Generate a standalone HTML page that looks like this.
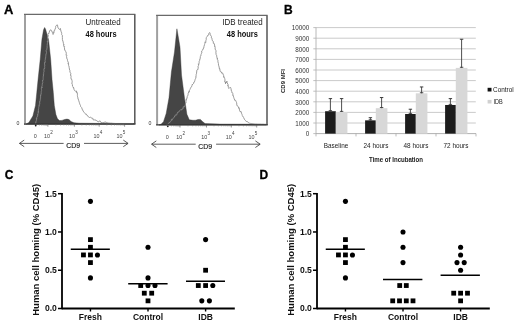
<!DOCTYPE html>
<html><head><meta charset="utf-8"><style>
html,body{margin:0;padding:0;background:#fff;width:520px;height:325px;overflow:hidden}
svg{display:block;filter:blur(0.3px)}
text{font-family:"Liberation Sans",sans-serif}
</style></head><body>
<svg width="520" height="325" viewBox="0 0 520 325">
<rect width="520" height="325" fill="#fff"/>
<text transform="translate(4.1,13.9) scale(1.08,1)" font-size="12" font-weight="bold" stroke="#000" stroke-width="0.3" font-family="'Liberation Sans', sans-serif">A</text>
<text transform="translate(284.0,13.9)" font-size="12" font-weight="bold" stroke="#000" stroke-width="0.3" font-family="'Liberation Sans', sans-serif">B</text>
<text transform="translate(4.7,179.0)" font-size="12" font-weight="bold" stroke="#000" stroke-width="0.3" font-family="'Liberation Sans', sans-serif">C</text>
<text transform="translate(259.5,179.0)" font-size="12" font-weight="bold" stroke="#000" stroke-width="0.3" font-family="'Liberation Sans', sans-serif">D</text>
<line x1="25" y1="14.45" x2="25" y2="124.1" stroke="#a0a0a0" stroke-width="2"/>
<line x1="24" y1="14.45" x2="135.4" y2="14.45" stroke="#6a6a6a" stroke-width="1.3"/>
<line x1="134.8" y1="14.45" x2="134.8" y2="124.1" stroke="#555" stroke-width="1.5"/>
<polygon points="26.0,124.1 28.9,122.5 32.9,115.9 35.5,105.4 36.8,92.4 38.1,79.3 40.2,59.6 41.9,39.4 43.5,30.0 44.6,27.5 45.5,29.0 47.0,34.3 48.6,40.0 50.7,59.6 52.0,79.3 53.3,92.4 54.3,105.4 55.9,114.6 57.5,118.8 59.5,120.6 62.0,120.4 64.5,119.5 67.0,119.1 69.0,119.6 71.0,121.5 74.0,122.7 79.0,123.2 100.0,123.4 134.0,123.5 134.0,124.1" fill="#454545" stroke="#333" stroke-width="0.4"/>
<polyline points="35.5,123.6 36.0,122.0 35.8,122.2 36.2,120.8 36.7,120.1 36.3,118.2 36.9,118.6 36.8,117.5 37.6,116.0 37.9,114.7 37.5,115.0 38.1,113.3 38.3,111.5 38.3,112.3 38.4,110.1 38.4,108.8 38.8,108.6 38.7,107.4 39.0,106.4 38.8,105.7 39.4,105.7 39.2,104.5 39.8,104.2 39.6,101.7 40.0,101.9 39.9,101.4 40.2,100.3 40.3,98.4 40.6,98.5 40.6,97.0 40.5,95.2 40.7,95.7 41.0,93.6 41.2,93.7 41.2,92.4 41.3,91.3 41.6,90.6 41.5,89.7 41.3,88.8 41.9,87.1 42.0,87.8 41.8,85.9 42.5,85.2 42.3,84.8 42.2,84.0 42.8,82.5 42.6,81.7 42.8,80.2 42.5,80.6 43.2,79.4 43.2,78.6 43.2,77.6 43.3,76.2 43.7,74.4 43.3,74.5 43.7,73.4 43.7,72.3 44.0,71.7 44.0,70.9 43.9,69.0 44.3,68.3 44.6,68.7 44.7,67.6 44.6,66.2 45.0,64.8 44.5,64.7 44.6,62.6 44.9,63.0 45.3,60.9 45.0,60.4 45.4,59.1 45.3,58.2 45.6,58.3 45.7,56.7 45.8,55.2 45.7,55.0 46.4,53.5 46.0,53.3 46.5,52.6 46.1,50.6 46.7,49.9 46.8,49.0 46.8,49.0 47.2,47.3 47.0,47.4 47.2,45.4 47.2,45.0 47.3,43.9 47.5,42.8 47.3,41.3 47.8,42.0 47.9,39.9 48.0,38.9 47.7,38.7 47.5,36.9 47.6,37.1 48.4,36.0 47.9,34.6 48.2,33.5 49.1,33.4 49.2,32.3 49.6,31.0 50.4,29.9 50.8,29.7 51.0,30.5 51.8,30.9 52.2,32.2 52.9,33.2 53.1,34.5 53.0,34.3 53.5,32.2 54.1,32.7 54.0,30.7 54.7,30.4 54.7,29.9 55.2,29.0 55.7,27.4 55.6,26.5 56.6,25.2 57.3,24.8 57.5,25.1 57.9,27.7 58.5,28.0 59.1,29.2 59.5,29.5 60.5,28.5 60.6,30.0 60.7,30.0 61.2,31.9 61.6,32.9 61.5,33.0 61.7,33.3 61.5,34.3 62.3,35.2 62.4,37.5 62.4,37.7 62.4,39.5 62.7,40.0 62.7,41.0 63.0,41.1 63.4,43.4 63.5,44.4 64.0,44.1 63.6,46.0 63.9,46.7 64.6,46.6 64.4,47.4 64.7,50.0 65.0,50.0 65.0,50.2 65.6,51.4 66.0,52.0 66.3,53.4 66.0,55.3 66.4,55.0 66.8,55.6 66.5,56.4 67.0,59.1 67.3,59.3 67.6,60.0 67.5,60.6 68.3,62.6 67.9,63.6 68.5,63.2 68.6,65.5 68.9,65.9 69.0,66.0 69.0,67.0 69.2,67.6 69.6,70.1 69.9,70.4 69.9,71.9 70.2,72.0 70.2,72.5 70.8,73.5 70.5,75.4 70.9,75.3 71.1,76.6 70.8,76.9 71.0,77.8 71.1,79.2 71.7,79.3 72.0,80.6 72.2,81.8 72.1,82.1 71.9,84.1 72.4,84.5 72.5,86.3 73.4,87.0 73.2,88.0 73.7,87.7 74.0,89.4 74.7,90.7 75.5,91.2 76.6,91.0 76.4,92.6 77.2,92.4 77.4,94.2 77.5,95.2 77.3,95.8 77.4,96.2 78.0,97.6 77.7,97.7 78.2,99.0 78.8,100.8 78.9,100.9 79.2,102.4 79.4,102.5 79.5,103.2 80.1,104.8 80.5,105.5 80.6,106.5 81.2,107.1 81.7,107.6 82.3,109.7 82.9,109.9 82.9,110.5 83.7,111.9 84.4,112.7 85.0,113.6 85.9,114.3 86.4,114.2 86.9,115.4 87.9,115.9 88.5,116.8 89.6,117.9 90.2,117.2 90.6,117.2 92.0,118.4 92.8,118.2 93.2,119.9 94.4,119.9 95.0,120.0 96.0,120.1 96.8,121.0 98.0,121.5 98.6,122.0 99.3,120.9 100.4,121.2 100.9,122.5 102.3,122.6 103.0,122.6 103.9,122.4 105.0,122.1 106.1,122.0 106.8,123.4 107.9,122.5 108.5,123.0 109.5,123.1 110.4,123.2 111.3,123.2 112.2,123.3 113.2,123.4 114.1,123.4 115.0,123.5 115.9,123.5 116.8,123.5 117.7,123.5 118.6,123.5 119.5,123.5 120.4,123.6 121.3,123.6 122.2,123.6 123.1,123.6 124.0,123.6 124.9,123.6 125.8,123.6 126.7,123.6 127.6,123.6 128.5,123.7 129.4,123.7 130.3,123.7 131.2,123.7 132.1,123.7 133.0,123.7" fill="none" stroke="#8a8a8a" stroke-width="0.85" stroke-linejoin="round"/>
<line x1="24" y1="124.1" x2="135.5" y2="124.1" stroke="#333" stroke-width="1.4"/>
<line x1="47.9" y1="124.1" x2="47.9" y2="126.69999999999999" stroke="#555" stroke-width="0.6"/>
<line x1="74.4" y1="124.1" x2="74.4" y2="126.69999999999999" stroke="#555" stroke-width="0.6"/>
<line x1="99.2" y1="124.1" x2="99.2" y2="126.69999999999999" stroke="#555" stroke-width="0.6"/>
<line x1="124.6" y1="124.1" x2="124.6" y2="126.69999999999999" stroke="#555" stroke-width="0.6"/>
<line x1="55.88" y1="124.1" x2="55.88" y2="125.6" stroke="#777" stroke-width="0.5"/>
<line x1="60.54" y1="124.1" x2="60.54" y2="125.6" stroke="#777" stroke-width="0.5"/>
<line x1="63.85" y1="124.1" x2="63.85" y2="125.6" stroke="#777" stroke-width="0.5"/>
<line x1="66.42" y1="124.1" x2="66.42" y2="125.6" stroke="#777" stroke-width="0.5"/>
<line x1="68.52" y1="124.1" x2="68.52" y2="125.6" stroke="#777" stroke-width="0.5"/>
<line x1="70.30" y1="124.1" x2="70.30" y2="125.6" stroke="#777" stroke-width="0.5"/>
<line x1="71.83" y1="124.1" x2="71.83" y2="125.6" stroke="#777" stroke-width="0.5"/>
<line x1="73.19" y1="124.1" x2="73.19" y2="125.6" stroke="#777" stroke-width="0.5"/>
<line x1="81.87" y1="124.1" x2="81.87" y2="125.6" stroke="#777" stroke-width="0.5"/>
<line x1="86.23" y1="124.1" x2="86.23" y2="125.6" stroke="#777" stroke-width="0.5"/>
<line x1="89.33" y1="124.1" x2="89.33" y2="125.6" stroke="#777" stroke-width="0.5"/>
<line x1="91.73" y1="124.1" x2="91.73" y2="125.6" stroke="#777" stroke-width="0.5"/>
<line x1="93.70" y1="124.1" x2="93.70" y2="125.6" stroke="#777" stroke-width="0.5"/>
<line x1="95.36" y1="124.1" x2="95.36" y2="125.6" stroke="#777" stroke-width="0.5"/>
<line x1="96.80" y1="124.1" x2="96.80" y2="125.6" stroke="#777" stroke-width="0.5"/>
<line x1="98.07" y1="124.1" x2="98.07" y2="125.6" stroke="#777" stroke-width="0.5"/>
<line x1="106.85" y1="124.1" x2="106.85" y2="125.6" stroke="#777" stroke-width="0.5"/>
<line x1="111.32" y1="124.1" x2="111.32" y2="125.6" stroke="#777" stroke-width="0.5"/>
<line x1="114.49" y1="124.1" x2="114.49" y2="125.6" stroke="#777" stroke-width="0.5"/>
<line x1="116.95" y1="124.1" x2="116.95" y2="125.6" stroke="#777" stroke-width="0.5"/>
<line x1="118.97" y1="124.1" x2="118.97" y2="125.6" stroke="#777" stroke-width="0.5"/>
<line x1="120.67" y1="124.1" x2="120.67" y2="125.6" stroke="#777" stroke-width="0.5"/>
<line x1="122.14" y1="124.1" x2="122.14" y2="125.6" stroke="#777" stroke-width="0.5"/>
<line x1="123.44" y1="124.1" x2="123.44" y2="125.6" stroke="#777" stroke-width="0.5"/>
<line x1="39.37" y1="124.1" x2="39.37" y2="125.6" stroke="#777" stroke-width="0.5"/>
<line x1="41.52" y1="124.1" x2="41.52" y2="125.6" stroke="#777" stroke-width="0.5"/>
<line x1="43.05" y1="124.1" x2="43.05" y2="125.6" stroke="#777" stroke-width="0.5"/>
<line x1="44.23" y1="124.1" x2="44.23" y2="125.6" stroke="#777" stroke-width="0.5"/>
<line x1="45.19" y1="124.1" x2="45.19" y2="125.6" stroke="#777" stroke-width="0.5"/>
<line x1="46.01" y1="124.1" x2="46.01" y2="125.6" stroke="#777" stroke-width="0.5"/>
<line x1="46.72" y1="124.1" x2="46.72" y2="125.6" stroke="#777" stroke-width="0.5"/>
<line x1="47.34" y1="124.1" x2="47.34" y2="125.6" stroke="#777" stroke-width="0.5"/>
<circle cx="35.7" cy="125.5" r="0.9" fill="#222"/>
<text x="16.4" y="124.5" font-size="5.2" fill="#333" font-family="'Liberation Sans', sans-serif">0</text>
<text x="33.7" y="137.79999999999998" font-size="5.4" fill="#444" font-family="'Liberation Sans', sans-serif">0</text>
<text x="44.1" y="137.79999999999998" font-size="5.4" fill="#444" font-family="'Liberation Sans', sans-serif">10</text>
<text x="50.300000000000004" y="133.7" font-size="4.6" fill="#444" font-family="'Liberation Sans', sans-serif">2</text>
<text x="69.1" y="137.79999999999998" font-size="5.4" fill="#444" font-family="'Liberation Sans', sans-serif">10</text>
<text x="75.3" y="133.7" font-size="4.6" fill="#444" font-family="'Liberation Sans', sans-serif">3</text>
<text x="93.6" y="137.79999999999998" font-size="5.4" fill="#444" font-family="'Liberation Sans', sans-serif">10</text>
<text x="99.8" y="133.7" font-size="4.6" fill="#444" font-family="'Liberation Sans', sans-serif">4</text>
<text x="116.5" y="137.79999999999998" font-size="5.4" fill="#444" font-family="'Liberation Sans', sans-serif">10</text>
<text x="122.7" y="133.7" font-size="4.6" fill="#444" font-family="'Liberation Sans', sans-serif">5</text>
<text x="66.2" y="148.1" font-size="6.9" fill="#111" stroke="#111" stroke-width="0.12" font-family="'Liberation Sans', sans-serif">CD9</text>
<line x1="19.7" y1="143.4" x2="63.6" y2="143.4" stroke="#333" stroke-width="0.8"/>
<line x1="84" y1="143.4" x2="127.8" y2="143.4" stroke="#333" stroke-width="0.8"/>
<polyline points="24.2,140.1 19.4,143.4 24.2,146.70000000000002" fill="none" stroke="#333" stroke-width="0.8"/>
<polyline points="123.3,140.1 128.1,143.4 123.3,146.70000000000002" fill="none" stroke="#333" stroke-width="0.8"/>
<text transform="translate(85.6,25.0) scale(1,1.05)" font-size="8.0" fill="#222" font-family="'Liberation Sans', sans-serif">Untreated</text>
<text transform="translate(85.5,36.5) scale(1,1.1)" font-size="7.45" font-weight="bold" fill="#111" font-family="'Liberation Sans', sans-serif">48 hours</text>
<line x1="157.1" y1="15.45" x2="157.1" y2="124.9" stroke="#a0a0a0" stroke-width="2"/>
<line x1="156.1" y1="15.45" x2="267.6" y2="15.45" stroke="#6a6a6a" stroke-width="1.3"/>
<line x1="267" y1="15.45" x2="267" y2="124.9" stroke="#555" stroke-width="1.5"/>
<polygon points="159.0,124.9 161.0,124.2 163.5,121.7 166.2,113.4 169.0,97.7 171.4,72.0 174.5,51.9 176.9,28.8 178.5,38.0 180.0,47.3 181.5,75.0 184.7,99.5 186.9,114.3 189.3,119.8 193.0,120.3 195.7,120.2 198.0,119.5 200.4,119.4 202.5,121.5 205.0,123.6 220.0,124.1 266.0,124.2 266.0,124.9" fill="#454545" stroke="#333" stroke-width="0.4"/>
<polyline points="166.0,125.0 167.0,124.6 168.0,124.2 168.6,123.5 169.5,122.1 169.7,122.6 170.4,121.4 171.3,120.9 171.4,119.2 172.3,119.9 172.6,119.0 173.7,117.7 174.5,116.6 174.4,117.1 175.4,114.9 176.0,115.0 176.6,115.1 177.3,113.1 177.8,112.1 178.7,112.1 179.2,111.1 180.0,110.3 180.3,109.8 181.4,110.1 181.8,109.0 183.0,109.0 183.2,106.7 184.2,107.1 184.7,106.0 184.9,105.9 185.3,104.8 185.5,102.9 186.0,103.1 186.0,101.5 186.0,99.7 186.4,100.2 186.8,98.1 187.1,98.2 187.2,96.7 187.5,96.0 188.0,95.1 188.1,94.2 188.2,93.2 189.0,91.4 189.3,92.2 189.3,90.2 190.2,89.4 190.2,88.5 190.7,88.2 190.9,87.5 191.9,86.1 192.0,85.4 192.5,84.0 192.6,84.4 193.7,83.3 193.9,82.0 194.5,81.8 194.8,80.7 195.2,79.3 195.7,78.3 196.1,76.6 195.8,76.6 196.1,75.6 196.2,74.4 196.5,73.9 196.5,73.1 196.7,72.0 196.8,70.3 197.3,69.6 197.7,69.9 198.0,68.9 198.2,67.1 197.9,66.9 198.5,65.7 198.4,63.9 198.8,64.3 199.2,62.2 199.1,61.7 199.6,60.5 199.6,59.6 200.0,59.6 200.2,58.0 200.4,56.5 200.4,56.3 201.2,54.8 200.9,54.6 201.3,53.7 201.9,53.0 201.6,51.0 202.5,50.3 202.8,49.4 203.0,49.5 203.7,47.7 203.7,47.8 204.0,46.4 204.4,45.0 204.6,44.4 204.9,43.3 205.0,41.9 205.7,42.6 205.9,40.5 206.3,39.5 206.2,39.4 206.2,37.6 206.8,37.1 207.1,36.7 208.0,35.0 208.9,34.7 208.8,33.5 209.6,32.5 210.3,34.0 210.3,34.6 210.5,34.9 211.0,36.0 211.4,36.4 211.3,37.8 212.0,38.2 212.1,39.5 212.4,40.8 213.3,41.4 213.3,43.3 214.2,43.5 214.3,43.9 214.8,46.3 214.6,46.0 215.2,47.6 215.1,49.0 215.5,49.9 215.9,50.1 216.0,50.6 216.0,52.0 215.9,52.2 216.1,54.5 216.6,55.2 216.6,56.2 216.7,56.2 217.1,58.1 217.5,59.1 217.4,58.5 217.2,59.4 218.0,60.2 217.9,61.9 218.4,63.3 218.4,63.4 218.5,65.1 218.6,65.6 218.8,65.6 219.3,68.0 219.4,69.0 219.9,68.7 219.9,70.0 220.3,71.6 221.5,72.0 221.7,73.2 222.8,73.1 222.9,73.8 223.6,75.5 223.8,77.3 223.8,76.7 224.4,77.8 224.7,78.5 225.0,79.9 224.7,81.8 225.1,81.5 225.4,82.2 225.5,83.8 225.6,82.1 226.3,82.9 226.9,81.1 227.1,82.2 227.1,82.6 228.0,84.6 227.6,85.6 228.2,85.2 228.4,87.5 228.7,87.9 228.8,88.5 229.7,87.6 230.6,87.5 230.7,88.1 231.0,88.6 231.4,91.2 231.9,91.5 232.0,92.9 232.2,92.7 232.9,93.7 232.8,95.6 233.3,95.5 233.6,96.9 233.8,97.7 233.9,98.1 234.3,98.9 234.7,100.3 235.6,100.3 236.1,101.5 236.6,102.7 236.7,102.9 236.8,104.9 237.3,106.0 238.3,106.6 238.4,106.9 238.7,108.3 239.2,107.8 239.5,110.1 239.7,110.9 240.1,111.7 241.1,111.5 241.5,113.2 241.8,114.1 242.0,114.3 242.2,115.6 242.7,116.0 243.5,117.4 243.6,117.5 244.6,119.7 244.8,119.8 245.6,120.5 246.3,121.6 247.0,121.3 247.5,121.6 248.6,122.9 249.4,123.2 250.3,123.4 251.3,123.5 252.2,123.7 253.1,123.9 254.1,124.0 255.0,124.2 255.9,124.2 256.8,124.2 257.8,124.3 258.7,124.3 259.6,124.3 260.5,124.3 261.4,124.4 262.3,124.4 263.2,124.4 264.2,124.5 265.1,124.5 266.0,124.5" fill="none" stroke="#8a8a8a" stroke-width="0.85" stroke-linejoin="round"/>
<line x1="156.1" y1="124.9" x2="267.7" y2="124.9" stroke="#333" stroke-width="1.4"/>
<line x1="180.0" y1="124.9" x2="180.0" y2="127.5" stroke="#555" stroke-width="0.6"/>
<line x1="206.5" y1="124.9" x2="206.5" y2="127.5" stroke="#555" stroke-width="0.6"/>
<line x1="231.3" y1="124.9" x2="231.3" y2="127.5" stroke="#555" stroke-width="0.6"/>
<line x1="256.7" y1="124.9" x2="256.7" y2="127.5" stroke="#555" stroke-width="0.6"/>
<line x1="187.98" y1="124.9" x2="187.98" y2="126.4" stroke="#777" stroke-width="0.5"/>
<line x1="192.64" y1="124.9" x2="192.64" y2="126.4" stroke="#777" stroke-width="0.5"/>
<line x1="195.95" y1="124.9" x2="195.95" y2="126.4" stroke="#777" stroke-width="0.5"/>
<line x1="198.52" y1="124.9" x2="198.52" y2="126.4" stroke="#777" stroke-width="0.5"/>
<line x1="200.62" y1="124.9" x2="200.62" y2="126.4" stroke="#777" stroke-width="0.5"/>
<line x1="202.40" y1="124.9" x2="202.40" y2="126.4" stroke="#777" stroke-width="0.5"/>
<line x1="203.93" y1="124.9" x2="203.93" y2="126.4" stroke="#777" stroke-width="0.5"/>
<line x1="205.29" y1="124.9" x2="205.29" y2="126.4" stroke="#777" stroke-width="0.5"/>
<line x1="213.97" y1="124.9" x2="213.97" y2="126.4" stroke="#777" stroke-width="0.5"/>
<line x1="218.33" y1="124.9" x2="218.33" y2="126.4" stroke="#777" stroke-width="0.5"/>
<line x1="221.43" y1="124.9" x2="221.43" y2="126.4" stroke="#777" stroke-width="0.5"/>
<line x1="223.83" y1="124.9" x2="223.83" y2="126.4" stroke="#777" stroke-width="0.5"/>
<line x1="225.80" y1="124.9" x2="225.80" y2="126.4" stroke="#777" stroke-width="0.5"/>
<line x1="227.46" y1="124.9" x2="227.46" y2="126.4" stroke="#777" stroke-width="0.5"/>
<line x1="228.90" y1="124.9" x2="228.90" y2="126.4" stroke="#777" stroke-width="0.5"/>
<line x1="230.17" y1="124.9" x2="230.17" y2="126.4" stroke="#777" stroke-width="0.5"/>
<line x1="238.95" y1="124.9" x2="238.95" y2="126.4" stroke="#777" stroke-width="0.5"/>
<line x1="243.42" y1="124.9" x2="243.42" y2="126.4" stroke="#777" stroke-width="0.5"/>
<line x1="246.59" y1="124.9" x2="246.59" y2="126.4" stroke="#777" stroke-width="0.5"/>
<line x1="249.05" y1="124.9" x2="249.05" y2="126.4" stroke="#777" stroke-width="0.5"/>
<line x1="251.07" y1="124.9" x2="251.07" y2="126.4" stroke="#777" stroke-width="0.5"/>
<line x1="252.77" y1="124.9" x2="252.77" y2="126.4" stroke="#777" stroke-width="0.5"/>
<line x1="254.24" y1="124.9" x2="254.24" y2="126.4" stroke="#777" stroke-width="0.5"/>
<line x1="255.54" y1="124.9" x2="255.54" y2="126.4" stroke="#777" stroke-width="0.5"/>
<line x1="171.47" y1="124.9" x2="171.47" y2="126.4" stroke="#777" stroke-width="0.5"/>
<line x1="173.62" y1="124.9" x2="173.62" y2="126.4" stroke="#777" stroke-width="0.5"/>
<line x1="175.15" y1="124.9" x2="175.15" y2="126.4" stroke="#777" stroke-width="0.5"/>
<line x1="176.33" y1="124.9" x2="176.33" y2="126.4" stroke="#777" stroke-width="0.5"/>
<line x1="177.29" y1="124.9" x2="177.29" y2="126.4" stroke="#777" stroke-width="0.5"/>
<line x1="178.11" y1="124.9" x2="178.11" y2="126.4" stroke="#777" stroke-width="0.5"/>
<line x1="178.82" y1="124.9" x2="178.82" y2="126.4" stroke="#777" stroke-width="0.5"/>
<line x1="179.44" y1="124.9" x2="179.44" y2="126.4" stroke="#777" stroke-width="0.5"/>
<circle cx="167.79999999999998" cy="126.30000000000001" r="0.9" fill="#222"/>
<text x="148.5" y="125.30000000000001" font-size="5.2" fill="#333" font-family="'Liberation Sans', sans-serif">0</text>
<text x="165.79999999999998" y="138.6" font-size="5.4" fill="#444" font-family="'Liberation Sans', sans-serif">0</text>
<text x="176.2" y="138.6" font-size="5.4" fill="#444" font-family="'Liberation Sans', sans-serif">10</text>
<text x="182.39999999999998" y="134.5" font-size="4.6" fill="#444" font-family="'Liberation Sans', sans-serif">2</text>
<text x="201.2" y="138.6" font-size="5.4" fill="#444" font-family="'Liberation Sans', sans-serif">10</text>
<text x="207.39999999999998" y="134.5" font-size="4.6" fill="#444" font-family="'Liberation Sans', sans-serif">3</text>
<text x="225.7" y="138.6" font-size="5.4" fill="#444" font-family="'Liberation Sans', sans-serif">10</text>
<text x="231.89999999999998" y="134.5" font-size="4.6" fill="#444" font-family="'Liberation Sans', sans-serif">4</text>
<text x="248.6" y="138.6" font-size="5.4" fill="#444" font-family="'Liberation Sans', sans-serif">10</text>
<text x="254.79999999999998" y="134.5" font-size="4.6" fill="#444" font-family="'Liberation Sans', sans-serif">5</text>
<text x="198.3" y="148.9" font-size="6.9" fill="#111" stroke="#111" stroke-width="0.12" font-family="'Liberation Sans', sans-serif">CD9</text>
<line x1="151.79999999999998" y1="144.20000000000002" x2="195.7" y2="144.20000000000002" stroke="#333" stroke-width="0.8"/>
<line x1="216.1" y1="144.20000000000002" x2="259.9" y2="144.20000000000002" stroke="#333" stroke-width="0.8"/>
<polyline points="156.29999999999998,140.9 151.5,144.20000000000002 156.29999999999998,147.50000000000003" fill="none" stroke="#333" stroke-width="0.8"/>
<polyline points="255.39999999999998,140.9 260.2,144.20000000000002 255.39999999999998,147.50000000000003" fill="none" stroke="#333" stroke-width="0.8"/>
<text transform="translate(222.3,25.0) scale(1,1.05)" font-size="8.0" fill="#222" font-family="'Liberation Sans', sans-serif">IDB treated</text>
<text transform="translate(226.8,36.5) scale(1,1.1)" font-size="7.45" font-weight="bold" fill="#111" font-family="'Liberation Sans', sans-serif">48 hours</text>
<line x1="316" y1="123.00" x2="475.8" y2="123.00" stroke="#c4c4c4" stroke-width="0.9"/>
<line x1="316" y1="112.40" x2="475.8" y2="112.40" stroke="#c4c4c4" stroke-width="0.9"/>
<line x1="316" y1="101.80" x2="475.8" y2="101.80" stroke="#c4c4c4" stroke-width="0.9"/>
<line x1="316" y1="91.20" x2="475.8" y2="91.20" stroke="#c4c4c4" stroke-width="0.9"/>
<line x1="316" y1="80.60" x2="475.8" y2="80.60" stroke="#c4c4c4" stroke-width="0.9"/>
<line x1="316" y1="70.00" x2="475.8" y2="70.00" stroke="#c4c4c4" stroke-width="0.9"/>
<line x1="316" y1="59.40" x2="475.8" y2="59.40" stroke="#c4c4c4" stroke-width="0.9"/>
<line x1="316" y1="48.80" x2="475.8" y2="48.80" stroke="#c4c4c4" stroke-width="0.9"/>
<line x1="316" y1="38.20" x2="475.8" y2="38.20" stroke="#c4c4c4" stroke-width="0.9"/>
<line x1="316" y1="27.60" x2="475.8" y2="27.60" stroke="#c4c4c4" stroke-width="0.9"/>
<line x1="313.3" y1="133.60" x2="316" y2="133.60" stroke="#b0b0b0" stroke-width="0.8"/>
<text x="309.3" y="136.30" font-size="6.3" text-anchor="end" fill="#333" font-family="'Liberation Sans', sans-serif">0</text>
<line x1="313.3" y1="123.00" x2="316" y2="123.00" stroke="#b0b0b0" stroke-width="0.8"/>
<text x="309.3" y="125.70" font-size="6.3" text-anchor="end" fill="#333" font-family="'Liberation Sans', sans-serif">1000</text>
<line x1="313.3" y1="112.40" x2="316" y2="112.40" stroke="#b0b0b0" stroke-width="0.8"/>
<text x="309.3" y="115.10" font-size="6.3" text-anchor="end" fill="#333" font-family="'Liberation Sans', sans-serif">2000</text>
<line x1="313.3" y1="101.80" x2="316" y2="101.80" stroke="#b0b0b0" stroke-width="0.8"/>
<text x="309.3" y="104.50" font-size="6.3" text-anchor="end" fill="#333" font-family="'Liberation Sans', sans-serif">3000</text>
<line x1="313.3" y1="91.20" x2="316" y2="91.20" stroke="#b0b0b0" stroke-width="0.8"/>
<text x="309.3" y="93.90" font-size="6.3" text-anchor="end" fill="#333" font-family="'Liberation Sans', sans-serif">4000</text>
<line x1="313.3" y1="80.60" x2="316" y2="80.60" stroke="#b0b0b0" stroke-width="0.8"/>
<text x="309.3" y="83.30" font-size="6.3" text-anchor="end" fill="#333" font-family="'Liberation Sans', sans-serif">5000</text>
<line x1="313.3" y1="70.00" x2="316" y2="70.00" stroke="#b0b0b0" stroke-width="0.8"/>
<text x="309.3" y="72.70" font-size="6.3" text-anchor="end" fill="#333" font-family="'Liberation Sans', sans-serif">6000</text>
<line x1="313.3" y1="59.40" x2="316" y2="59.40" stroke="#b0b0b0" stroke-width="0.8"/>
<text x="309.3" y="62.10" font-size="6.3" text-anchor="end" fill="#333" font-family="'Liberation Sans', sans-serif">7000</text>
<line x1="313.3" y1="48.80" x2="316" y2="48.80" stroke="#b0b0b0" stroke-width="0.8"/>
<text x="309.3" y="51.50" font-size="6.3" text-anchor="end" fill="#333" font-family="'Liberation Sans', sans-serif">8000</text>
<line x1="313.3" y1="38.20" x2="316" y2="38.20" stroke="#b0b0b0" stroke-width="0.8"/>
<text x="309.3" y="40.90" font-size="6.3" text-anchor="end" fill="#333" font-family="'Liberation Sans', sans-serif">9000</text>
<line x1="313.3" y1="27.60" x2="316" y2="27.60" stroke="#b0b0b0" stroke-width="0.8"/>
<text x="309.3" y="30.30" font-size="6.3" text-anchor="end" fill="#333" font-family="'Liberation Sans', sans-serif">10000</text>
<line x1="316" y1="27.60" x2="316" y2="133.6" stroke="#b0b0b0" stroke-width="0.9"/>
<line x1="316" y1="133.6" x2="476" y2="133.6" stroke="#a8a8a8" stroke-width="0.9"/>
<line x1="316" y1="133.6" x2="316" y2="136.4" stroke="#aaa" stroke-width="0.8"/>
<line x1="356" y1="133.6" x2="356" y2="136.4" stroke="#aaa" stroke-width="0.8"/>
<line x1="396" y1="133.6" x2="396" y2="136.4" stroke="#aaa" stroke-width="0.8"/>
<line x1="436" y1="133.6" x2="436" y2="136.4" stroke="#aaa" stroke-width="0.8"/>
<line x1="476" y1="133.6" x2="476" y2="136.4" stroke="#aaa" stroke-width="0.8"/>
<rect x="325.1" y="111.23" width="10.7" height="22.37" fill="#1c1c1c"/>
<rect x="335.8" y="111.98" width="11.6" height="21.62" fill="#d8d8d8"/>
<line x1="330.40000000000003" y1="98.62" x2="330.40000000000003" y2="111.23" stroke="#3a3a3a" stroke-width="0.9"/>
<line x1="328.70000000000005" y1="98.62" x2="332.1" y2="98.62" stroke="#3a3a3a" stroke-width="1"/>
<line x1="328.70000000000005" y1="110.63" x2="332.1" y2="110.63" stroke="#3a3a3a" stroke-width="0.9"/>
<line x1="341.6" y1="98.62" x2="341.6" y2="111.98" stroke="#3a3a3a" stroke-width="0.9"/>
<line x1="339.90000000000003" y1="98.62" x2="343.3" y2="98.62" stroke="#3a3a3a" stroke-width="1"/>
<line x1="339.90000000000003" y1="111.38" x2="343.3" y2="111.38" stroke="#3a3a3a" stroke-width="0.9"/>
<rect x="365.1" y="120.35" width="10.7" height="13.25" fill="#1c1c1c"/>
<rect x="375.8" y="108.16" width="11.6" height="25.44" fill="#d8d8d8"/>
<line x1="370.40000000000003" y1="117.70" x2="370.40000000000003" y2="120.35" stroke="#3a3a3a" stroke-width="0.9"/>
<line x1="368.70000000000005" y1="117.70" x2="372.1" y2="117.70" stroke="#3a3a3a" stroke-width="1"/>
<line x1="368.70000000000005" y1="119.75" x2="372.1" y2="119.75" stroke="#3a3a3a" stroke-width="0.9"/>
<line x1="381.6" y1="97.56" x2="381.6" y2="108.16" stroke="#3a3a3a" stroke-width="0.9"/>
<line x1="379.90000000000003" y1="97.56" x2="383.3" y2="97.56" stroke="#3a3a3a" stroke-width="1"/>
<line x1="379.90000000000003" y1="107.56" x2="383.3" y2="107.56" stroke="#3a3a3a" stroke-width="0.9"/>
<rect x="405.1" y="113.99" width="10.7" height="19.61" fill="#1c1c1c"/>
<rect x="415.8" y="93.32" width="11.6" height="40.28" fill="#d8d8d8"/>
<line x1="410.40000000000003" y1="109.22" x2="410.40000000000003" y2="113.99" stroke="#3a3a3a" stroke-width="0.9"/>
<line x1="408.70000000000005" y1="109.22" x2="412.1" y2="109.22" stroke="#3a3a3a" stroke-width="1"/>
<line x1="408.70000000000005" y1="113.39" x2="412.1" y2="113.39" stroke="#3a3a3a" stroke-width="0.9"/>
<line x1="421.6" y1="86.96" x2="421.6" y2="93.32" stroke="#3a3a3a" stroke-width="0.9"/>
<line x1="419.90000000000003" y1="86.96" x2="423.3" y2="86.96" stroke="#3a3a3a" stroke-width="1"/>
<line x1="419.90000000000003" y1="92.72" x2="423.3" y2="92.72" stroke="#3a3a3a" stroke-width="0.9"/>
<rect x="445.1" y="104.98" width="10.7" height="28.62" fill="#1c1c1c"/>
<rect x="455.8" y="67.88" width="11.6" height="65.72" fill="#d8d8d8"/>
<line x1="450.40000000000003" y1="98.62" x2="450.40000000000003" y2="104.98" stroke="#3a3a3a" stroke-width="0.9"/>
<line x1="448.70000000000005" y1="98.62" x2="452.1" y2="98.62" stroke="#3a3a3a" stroke-width="1"/>
<line x1="448.70000000000005" y1="104.38" x2="452.1" y2="104.38" stroke="#3a3a3a" stroke-width="0.9"/>
<line x1="461.6" y1="39.26" x2="461.6" y2="67.88" stroke="#3a3a3a" stroke-width="0.9"/>
<line x1="459.90000000000003" y1="39.26" x2="463.3" y2="39.26" stroke="#3a3a3a" stroke-width="1"/>
<line x1="459.90000000000003" y1="67.28" x2="463.3" y2="67.28" stroke="#3a3a3a" stroke-width="0.9"/>
<text transform="translate(336,148.0) scale(1,1.1)" font-size="6.4" text-anchor="middle" fill="#222" font-family="'Liberation Sans', sans-serif">Baseline</text>
<text transform="translate(376,148.0) scale(1,1.1)" font-size="6.4" text-anchor="middle" fill="#222" font-family="'Liberation Sans', sans-serif">24 hours</text>
<text transform="translate(416,148.0) scale(1,1.1)" font-size="6.4" text-anchor="middle" fill="#222" font-family="'Liberation Sans', sans-serif">48 hours</text>
<text transform="translate(456,148.0) scale(1,1.1)" font-size="6.4" text-anchor="middle" fill="#222" font-family="'Liberation Sans', sans-serif">72 hours</text>
<text transform="translate(396,161.7) scale(1,1.08)" font-size="6.1" font-weight="bold" text-anchor="middle" fill="#1a1a1a" font-family="'Liberation Sans', sans-serif">Time of Incubation</text>
<text transform="translate(285.3,81) rotate(-90)" font-size="6" font-weight="bold" text-anchor="middle" fill="#222" font-family="'Liberation Sans', sans-serif">CD9 MFI</text>
<rect x="487.6" y="87.8" width="3.9" height="3.7" fill="#111"/>
<text transform="translate(493.1,92) scale(1,1.05)" font-size="6.4" fill="#222" font-family="'Liberation Sans', sans-serif">Control</text>
<rect x="487.6" y="99.9" width="3.9" height="3.6" fill="#d0d0d0"/>
<text transform="translate(493.4,104) scale(0.87,1.05)" font-size="6.4" fill="#222" font-family="'Liberation Sans', sans-serif">IDB</text>
<line x1="62" y1="192.90" x2="62" y2="309.3" stroke="#000" stroke-width="1.8"/>
<line x1="62" y1="308.5" x2="234.8" y2="308.5" stroke="#000" stroke-width="1.8"/>
<line x1="58" y1="308.50" x2="62" y2="308.50" stroke="#000" stroke-width="1.5"/>
<text x="56.9" y="311.40" font-size="8.6" font-weight="bold" text-anchor="end" fill="#111" font-family="'Liberation Sans', sans-serif">0.0</text>
<line x1="58" y1="270.24" x2="62" y2="270.24" stroke="#000" stroke-width="1.5"/>
<text x="56.9" y="273.13" font-size="8.6" font-weight="bold" text-anchor="end" fill="#111" font-family="'Liberation Sans', sans-serif">0.5</text>
<line x1="58" y1="231.97" x2="62" y2="231.97" stroke="#000" stroke-width="1.5"/>
<text x="56.9" y="234.87" font-size="8.6" font-weight="bold" text-anchor="end" fill="#111" font-family="'Liberation Sans', sans-serif">1.0</text>
<line x1="58" y1="193.70" x2="62" y2="193.70" stroke="#000" stroke-width="1.5"/>
<text x="56.9" y="196.60" font-size="8.6" font-weight="bold" text-anchor="end" fill="#111" font-family="'Liberation Sans', sans-serif">1.5</text>
<text transform="translate(39.3,249.8) rotate(-90)" font-size="9.5" font-weight="bold" text-anchor="middle" fill="#111" font-family="'Liberation Sans', sans-serif">Human cell homing (% CD45)</text>
<line x1="90.45" y1="308.5" x2="90.45" y2="311.5" stroke="#000" stroke-width="1.4"/>
<text x="90.45" y="320" font-size="8.5" font-weight="bold" text-anchor="middle" fill="#111" font-family="'Liberation Sans', sans-serif">Fresh</text>
<circle cx="90.45" cy="201.36" r="2.55" fill="#000"/>
<rect x="88.05" y="237.22" width="4.8" height="4.8" fill="#000"/>
<rect x="88.05" y="244.88" width="4.8" height="4.8" fill="#000"/>
<rect x="81.05" y="252.53" width="4.8" height="4.8" fill="#000"/>
<rect x="88.05" y="252.53" width="4.8" height="4.8" fill="#000"/>
<circle cx="97.45" cy="254.93" r="2.55" fill="#000"/>
<rect x="88.05" y="260.18" width="4.8" height="4.8" fill="#000"/>
<circle cx="90.45" cy="277.89" r="2.55" fill="#000"/>
<line x1="70.75" y1="249.19" x2="109.85" y2="249.19" stroke="#000" stroke-width="1.5"/>
<line x1="148" y1="308.5" x2="148" y2="311.5" stroke="#000" stroke-width="1.4"/>
<text x="148" y="320" font-size="8.5" font-weight="bold" text-anchor="middle" fill="#111" font-family="'Liberation Sans', sans-serif">Control</text>
<circle cx="148.00" cy="247.28" r="2.55" fill="#000"/>
<circle cx="148.00" cy="277.89" r="2.55" fill="#000"/>
<rect x="138.30" y="283.14" width="4.8" height="4.8" fill="#000"/>
<circle cx="148.00" cy="285.54" r="2.55" fill="#000"/>
<circle cx="155.00" cy="285.54" r="2.55" fill="#000"/>
<rect x="141.90" y="290.79" width="4.8" height="4.8" fill="#000"/>
<rect x="149.30" y="290.79" width="4.8" height="4.8" fill="#000"/>
<rect x="145.60" y="298.45" width="4.8" height="4.8" fill="#000"/>
<line x1="128.2" y1="283.63" x2="167.6" y2="283.63" stroke="#000" stroke-width="1.5"/>
<line x1="205.6" y1="308.5" x2="205.6" y2="311.5" stroke="#000" stroke-width="1.4"/>
<text x="205.6" y="320" font-size="8.5" font-weight="bold" text-anchor="middle" fill="#111" font-family="'Liberation Sans', sans-serif">IDB</text>
<circle cx="205.60" cy="239.62" r="2.55" fill="#000"/>
<rect x="203.20" y="267.84" width="4.8" height="4.8" fill="#000"/>
<rect x="195.90" y="283.14" width="4.8" height="4.8" fill="#000"/>
<rect x="203.20" y="283.14" width="4.8" height="4.8" fill="#000"/>
<circle cx="212.80" cy="285.54" r="2.55" fill="#000"/>
<circle cx="201.80" cy="300.85" r="2.55" fill="#000"/>
<circle cx="209.40" cy="300.85" r="2.55" fill="#000"/>
<line x1="186.0" y1="281.18" x2="225.0" y2="281.18" stroke="#000" stroke-width="1.5"/>
<line x1="317" y1="192.90" x2="317" y2="309.3" stroke="#000" stroke-width="1.8"/>
<line x1="317" y1="308.5" x2="489.8" y2="308.5" stroke="#000" stroke-width="1.8"/>
<line x1="313" y1="308.50" x2="317" y2="308.50" stroke="#000" stroke-width="1.5"/>
<text x="311.9" y="311.40" font-size="8.6" font-weight="bold" text-anchor="end" fill="#111" font-family="'Liberation Sans', sans-serif">0.0</text>
<line x1="313" y1="270.24" x2="317" y2="270.24" stroke="#000" stroke-width="1.5"/>
<text x="311.9" y="273.13" font-size="8.6" font-weight="bold" text-anchor="end" fill="#111" font-family="'Liberation Sans', sans-serif">0.5</text>
<line x1="313" y1="231.97" x2="317" y2="231.97" stroke="#000" stroke-width="1.5"/>
<text x="311.9" y="234.87" font-size="8.6" font-weight="bold" text-anchor="end" fill="#111" font-family="'Liberation Sans', sans-serif">1.0</text>
<line x1="313" y1="193.70" x2="317" y2="193.70" stroke="#000" stroke-width="1.5"/>
<text x="311.9" y="196.60" font-size="8.6" font-weight="bold" text-anchor="end" fill="#111" font-family="'Liberation Sans', sans-serif">1.5</text>
<text transform="translate(294.3,249.8) rotate(-90)" font-size="9.5" font-weight="bold" text-anchor="middle" fill="#111" font-family="'Liberation Sans', sans-serif">Human cell homing (% CD45)</text>
<line x1="345.45" y1="308.5" x2="345.45" y2="311.5" stroke="#000" stroke-width="1.4"/>
<text x="345.45" y="320" font-size="8.5" font-weight="bold" text-anchor="middle" fill="#111" font-family="'Liberation Sans', sans-serif">Fresh</text>
<circle cx="345.45" cy="201.36" r="2.55" fill="#000"/>
<rect x="343.05" y="237.22" width="4.8" height="4.8" fill="#000"/>
<rect x="343.05" y="244.88" width="4.8" height="4.8" fill="#000"/>
<rect x="336.05" y="252.53" width="4.8" height="4.8" fill="#000"/>
<rect x="343.05" y="252.53" width="4.8" height="4.8" fill="#000"/>
<circle cx="352.45" cy="254.93" r="2.55" fill="#000"/>
<rect x="343.05" y="260.18" width="4.8" height="4.8" fill="#000"/>
<circle cx="345.45" cy="277.89" r="2.55" fill="#000"/>
<line x1="325.75" y1="249.19" x2="364.84999999999997" y2="249.19" stroke="#000" stroke-width="1.5"/>
<line x1="403" y1="308.5" x2="403" y2="311.5" stroke="#000" stroke-width="1.4"/>
<text x="403" y="320" font-size="8.5" font-weight="bold" text-anchor="middle" fill="#111" font-family="'Liberation Sans', sans-serif">Control</text>
<circle cx="403.00" cy="231.97" r="2.55" fill="#000"/>
<circle cx="403.00" cy="247.28" r="2.55" fill="#000"/>
<circle cx="403.00" cy="262.58" r="2.55" fill="#000"/>
<rect x="397.30" y="283.14" width="4.8" height="4.8" fill="#000"/>
<rect x="403.90" y="283.14" width="4.8" height="4.8" fill="#000"/>
<rect x="390.30" y="298.45" width="4.8" height="4.8" fill="#000"/>
<rect x="397.10" y="298.45" width="4.8" height="4.8" fill="#000"/>
<rect x="403.90" y="298.45" width="4.8" height="4.8" fill="#000"/>
<rect x="410.60" y="298.45" width="4.8" height="4.8" fill="#000"/>
<line x1="383" y1="279.57" x2="422.4" y2="279.57" stroke="#000" stroke-width="1.5"/>
<line x1="460.6" y1="308.5" x2="460.6" y2="311.5" stroke="#000" stroke-width="1.4"/>
<text x="460.6" y="320" font-size="8.5" font-weight="bold" text-anchor="middle" fill="#111" font-family="'Liberation Sans', sans-serif">IDB</text>
<circle cx="460.60" cy="247.28" r="2.55" fill="#000"/>
<circle cx="460.60" cy="254.93" r="2.55" fill="#000"/>
<circle cx="457.00" cy="262.58" r="2.55" fill="#000"/>
<circle cx="464.20" cy="262.58" r="2.55" fill="#000"/>
<circle cx="460.60" cy="270.24" r="2.55" fill="#000"/>
<rect x="451.30" y="290.79" width="4.8" height="4.8" fill="#000"/>
<rect x="458.20" y="290.79" width="4.8" height="4.8" fill="#000"/>
<rect x="465.10" y="290.79" width="4.8" height="4.8" fill="#000"/>
<rect x="458.20" y="298.45" width="4.8" height="4.8" fill="#000"/>
<line x1="440.6" y1="275.36" x2="479.90000000000003" y2="275.36" stroke="#000" stroke-width="1.5"/>
</svg>
</body></html>
